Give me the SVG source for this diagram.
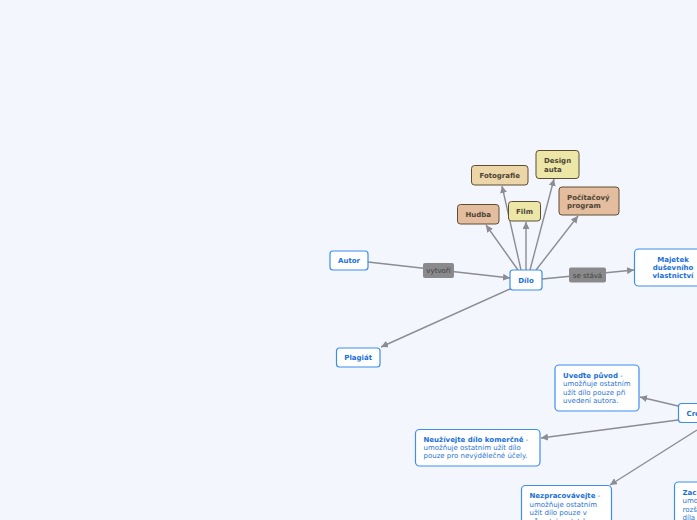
<svg xmlns="http://www.w3.org/2000/svg" width="697" height="520" viewBox="0 0 697 520">
<style>
text{font-family:"DejaVu Sans","Verdana",sans-serif;font-size:7px}
.wn{fill:#ffffff;stroke:#3d8ef0;stroke-width:1.2}
.t{font-weight:bold;fill:#1a6fd6;text-anchor:middle}
.tl{font-weight:bold;fill:#1a6fd6}
.d{fill:#2a74d2}
.cn{stroke:#5e4d35;stroke-width:1}
.ct{font-weight:bold;fill:#4d4436}
.c1{fill:#e3bd9d}
.c2{fill:#ecd5a6}
.c3{fill:#ece7a7}
.lb{fill:#8a8a8c}
.lt{fill:#3e3e40;text-anchor:middle}
.e{stroke:#8c8c92;stroke-width:1.4;fill:none;marker-end:url(#ah)}
.e2{stroke:#8c8c92;stroke-width:1.4;fill:none}
</style>
<defs>
<marker id="ah" viewBox="0 0 10 10" refX="10" refY="5" markerWidth="7" markerHeight="7" markerUnits="userSpaceOnUse" orient="auto">
<path d="M0,0 L10,5 L0,10 z" fill="#8c8c92"/>
</marker>
</defs>
<rect width="697" height="520" fill="#f3f6fd"/>
<g id="connectors">
<path class="e" d="M368,262 L510,278"/>
<path class="e" d="M518,270 L486,225"/>
<path class="e" d="M521,270 L502,186"/>
<path class="e" d="M526,270 L526,222"/>
<path class="e" d="M530,270 L554,179"/>
<path class="e" d="M536,270 L578,216"/>
<path class="e" d="M542,279 L634,270"/>
<path class="e" d="M510,289 L381,347"/>
<path class="e" d="M678,406 L640,397"/>
<path class="e" d="M678,420 L541,438"/>
<path class="e" d="M697,430 L610,485"/>
</g>
<g id="label-vytvori">
<rect class="lb" x="423" y="263" width="31" height="15" rx="2"/>
<text class="lt" x="438.5" y="273">vytvoří</text>
</g>
<g id="label-sestava">
<rect class="lb" x="569" y="267.5" width="37" height="15" rx="2"/>
<text class="lt" x="587.5" y="277.5">se stává</text>
</g>
<g id="autor">
<rect class="wn" x="330" y="251" width="38" height="19" rx="3"/>
<text class="t" x="349" y="263">Autor</text>
</g>
<g id="dilo">
<rect class="wn" x="510" y="270" width="32" height="20" rx="3"/>
<text class="t" x="526" y="282.5">Dílo</text>
</g>
<g id="plagiat">
<rect class="wn" x="336.5" y="348" width="43.5" height="19" rx="3"/>
<text class="t" x="358.2" y="360">Plagiát</text>
</g>
<g id="majetek">
<rect class="wn" x="634.5" y="249" width="78" height="37" rx="4"/>
<text class="t" x="673" y="262">Majetek</text>
<text class="t" x="673" y="270">duševního</text>
<text class="t" x="673" y="278">vlastnictví</text>
</g>
<g id="hudba">
<rect class="cn c1" x="457.5" y="204.5" width="41.5" height="19.5" rx="3"/>
<text class="ct" x="478.2" y="216.5" text-anchor="middle">Hudba</text>
</g>
<g id="fotografie">
<rect class="cn c2" x="471.5" y="165.5" width="56.5" height="19.5" rx="3"/>
<text class="ct" x="499.7" y="177.5" text-anchor="middle">Fotografie</text>
</g>
<g id="film">
<rect class="cn c3" x="508.5" y="201.5" width="32" height="19.5" rx="3"/>
<text class="ct" x="524.5" y="213.5" text-anchor="middle">Film</text>
</g>
<g id="design">
<rect class="cn c3" x="536" y="150.5" width="43" height="28" rx="3"/>
<text class="ct" x="544" y="163">Design</text>
<text class="ct" x="544" y="171.5">auta</text>
</g>
<g id="program">
<rect class="cn c1" x="559" y="187" width="60" height="28" rx="3"/>
<text class="ct" x="567" y="199.5">Počítačový</text>
<text class="ct" x="567" y="208">program</text>
</g>
<g id="creative">
<rect class="wn" x="678.5" y="403.5" width="90" height="19" rx="3"/>
<text class="tl" x="686.5" y="415.5">Creative Commons</text>
</g>
<g id="uvedte">
<rect class="wn" x="555" y="365" width="84" height="46" rx="4"/>
<text x="563" y="377.5"><tspan class="tl">Uveďte původ</tspan><tspan class="d"> -</tspan></text>
<text class="d" x="563" y="386">umožňuje ostatním</text>
<text class="d" x="563" y="394.5">užít dílo pouze při</text>
<text class="d" x="563" y="403">uvedení autora.</text>
</g>
<g id="neuzivejte">
<rect class="wn" x="415.5" y="429.5" width="124.5" height="36.5" rx="4"/>
<text x="423.5" y="442"><tspan class="tl">Neužívejte dílo komerčně</tspan><tspan class="d"> -</tspan></text>
<text class="d" x="423.5" y="450">umožňuje ostatním užít dílo</text>
<text class="d" x="423.5" y="458">pouze pro nevýdělečné účely.</text>
</g>
<g id="nezpracovavejte">
<rect class="wn" x="521.5" y="485.5" width="90" height="60" rx="4"/>
<text x="529.5" y="498"><tspan class="tl">Nezpracovávejte</tspan><tspan class="d"> -</tspan></text>
<text class="d" x="529.5" y="506.5">umožňuje ostatním</text>
<text class="d" x="529.5" y="515">užít dílo pouze v</text>
<text class="d" x="529.5" y="523.5">původní podobě.</text>
</g>
<g id="zachovejte">
<rect class="wn" x="674.5" y="482" width="90" height="60" rx="4"/>
<text x="682.5" y="494.5"><tspan class="tl">Zachovejte licenci</tspan><tspan class="d"> -</tspan></text>
<text class="d" x="682.5" y="503">umožňuje ostatním</text>
<text class="d" x="682.5" y="511.5">rozšiřovat odvozená</text>
<text class="d" x="682.5" y="520">díla pouze pod</text>
</g>
</svg>
